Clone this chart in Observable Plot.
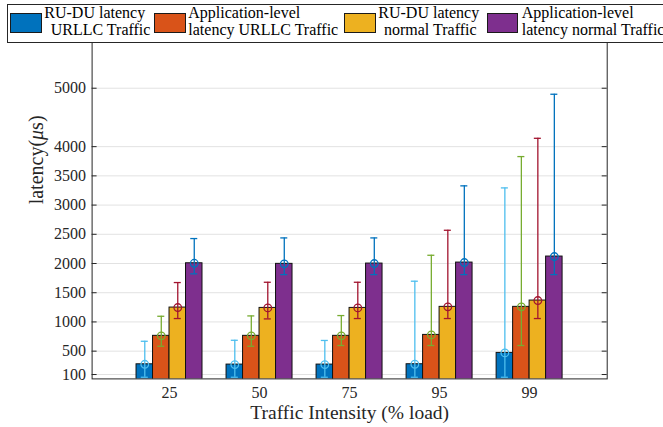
<!DOCTYPE html>
<html>
<head>
<meta charset="utf-8">
<script src="https://cdn.jsdelivr.net/npm/d3@7"></script>
<script src="https://cdn.jsdelivr.net/npm/@observablehq/plot@0.6"></script>
<style>
  html, body { margin: 0; padding: 0; background: #fff; overflow: hidden; }
  #wrap { position: relative; width: 663px; height: 427px; overflow: hidden; font-family: "Liberation Serif", "Times New Roman", Tinos, "DejaVu Serif", serif; }
  #legend { position: absolute; left: 6.7px; top: 4px; width: 720px; height: 38.5px; box-sizing: border-box;
            border: 1px solid #262626; background: #fff; }
  .sw { position: absolute; box-sizing: border-box; border: 1px solid #1a1a1a; }
  .lt { position: absolute; font-size: 16px; line-height: 16px; white-space: nowrap; color: #000; }
</style>
</head>
<body>
<div id="wrap"></div>
<script>
// ---- data ----
const categories = ["25", "50", "75", "95", "99"];
const seriesNames = [
  ["RU-DU latency", "URLLC Traffic"],
  ["Application-level", "latency URLLC Traffic"],
  ["RU-DU latency", "normal Traffic"],
  ["Application-level", "latency normal Traffic"]
];
const barColors = ["#0072BD", "#D95319", "#EDB120", "#7E2F8E"];
const errColors = ["#4DBEEE", "#77AC30", "#A2142F", "#0072BD"];

// mean latency (µs)
const ruduUrllc   = [275, 270, 270, 276, 470];
const appUrllc    = [762, 762, 762, 778, 1258];
const ruduNormal  = [1246, 1240, 1240, 1258, 1366];
const appNormal   = [2004, 1994, 1999, 2016, 2119];
// upper whisker
const ruduUrllcHi  = [669, 686, 683, 1697, 3294];
const appUrllcHi   = [1097, 1103, 1109, 2141, 3830];
const ruduNormalHi = [1674, 1679, 1679, 2569, 4143];
const appNormalHi  = [2427, 2438, 2438, 3329, 4897];
// lower whisker
const ruduUrllcLo  = [53, 53, 53, 53, 53];
const appUrllcLo   = [584, 584, 596, 596, 596];
const ruduNormalLo = [1058, 1052, 1058, 1058, 1058];
const appNormalLo  = [1823, 1810, 1810, 1810, 1810];

const yTicks = [100, 500, 1000, 1500, 2000, 2500, 3000, 3500, 4000, 5000];

// ---- build table ----
const means = [ruduUrllc, appUrllc, ruduNormal, appNormal];
const his = [ruduUrllcHi, appUrllcHi, ruduNormalHi, appNormalHi];
const los = [ruduUrllcLo, appUrllcLo, ruduNormalLo, appNormalLo];
const bw = 0.1832;      // bar width in x units (grouped bars)
const capHalf = 0.039;  // half cap width in x units
const rows = [];
categories.forEach((c, i) => {
  means.forEach((arr, s) => {
    const xc = (i + 1) + (s - 1.5) * bw;
    rows.push({cat: c, s, xc, x1: xc - bw / 2, x2: xc + bw / 2, v: arr[i], lo: los[s][i], hi: his[s][i]});
  });
});

const W = 663, H = 427;
const mL = 91.6, mR = 56.3, mT = 29.3, mB = 48.6;
const plotW = W - mL - mR;
const FONT = "'Liberation Serif', 'Times New Roman', Tinos, 'DejaVu Serif', serif";

const chart = Plot.plot({
  width: W, height: H,
  marginLeft: mL, marginRight: mR, marginTop: mT, marginBottom: mB,
  style: {fontFamily: FONT, fontSize: "16px", background: "white", color: "#262626"},
  x: {type: "linear", domain: [0.14, 5.862]},
  y: {type: "linear", domain: [25, 6000]},
  marks: [
    Plot.ruleY(yTicks, {y: d => d, stroke: "#e2e2e2", strokeWidth: 1}),
    Plot.rect(rows, {x1: "x1", x2: "x2", y1: 0, y2: "v", fill: d => barColors[d.s], stroke: "#111", strokeWidth: 1, clip: true}),
    Plot.ruleX(rows, {x: "xc", y1: "lo", y2: "hi", stroke: d => errColors[d.s], strokeWidth: 1.3}),
    Plot.ruleY(rows, {x1: d => d.xc - capHalf, x2: d => d.xc + capHalf, y: "hi", stroke: d => errColors[d.s], strokeWidth: 1.3}),
    Plot.ruleY(rows, {x1: d => d.xc - capHalf, x2: d => d.xc + capHalf, y: "lo", stroke: d => errColors[d.s], strokeWidth: 1.3}),
    Plot.dot(rows, {x: "xc", y: "v", r: 3.8, stroke: d => errColors[d.s], fill: "none", strokeWidth: 1.3}),
    Plot.frame({stroke: "#262626", strokeWidth: 1}),
    Plot.tickY(yTicks, {y: d => d, insetRight: plotW - 5, stroke: "#262626"}),
    Plot.tickY(yTicks, {y: d => d, insetLeft: plotW - 5, stroke: "#262626"}),
    Plot.axisY({ticks: yTicks, tickSize: 0, tickPadding: 6, fontSize: 16, label: null, tickFormat: d => String(d), fill: "#262626"}),
    Plot.axisX({ticks: [1, 2, 3, 4, 5], tickSize: 0, tickPadding: 8, fontSize: 16, label: null, tickFormat: d => categories[d - 1], fill: "#262626"}),
    Plot.text(["Traffic Intensity (% load)"], {frameAnchor: "bottom", dy: 39.6, lineAnchor: "bottom", fontSize: 19.5, fill: "#262626"}),
    Plot.text(["latency(μs)"], {frameAnchor: "left", dx: -49.5, rotate: -90, lineAnchor: "bottom", fontSize: 20, fill: "#262626"})
  ]
});

const wrap = document.getElementById("wrap");
wrap.appendChild(chart);

// italic mu in the y label
d3.select(chart).selectAll("text").each(function() {
  if (this.textContent === "latency(μs)") {
    const t = d3.select(this);
    t.text(null);
    t.append("tspan").text("latency(");
    t.append("tspan").attr("font-style", "italic").text("μ");
    t.append("tspan").text("s)");
  }
});

// ---- legend ----
const legend = document.createElement("div");
legend.id = "legend";
wrap.appendChild(legend);
const swatchX = [10, 154, 344.3, 486.7];
const textX = [44.3, 188.3, 378.3, 521.7];
const line2Indent = [6.4, 0, 5.7, 0];
const L = 6.7 + 1, T = 4 + 1; // legend inner origin
seriesNames.forEach((lines, s) => {
  const sw = document.createElement("div");
  sw.className = "sw";
  Object.assign(sw.style, {left: (swatchX[s] - L) + "px", top: (13.3 - T) + "px", width: "31.7px", height: "20px", background: barColors[s]});
  legend.appendChild(sw);
  const l1 = document.createElement("div");
  l1.className = "lt";
  l1.textContent = lines[0];
  Object.assign(l1.style, {left: (textX[s] - L) + "px", top: (4.9 - T) + "px"});
  legend.appendChild(l1);
  const l2 = document.createElement("div");
  l2.className = "lt";
  l2.textContent = lines[1];
  Object.assign(l2.style, {left: (textX[s] + line2Indent[s] - L) + "px", top: (21.6 - T) + "px"});
  legend.appendChild(l2);
});
</script>
</body>
</html>
